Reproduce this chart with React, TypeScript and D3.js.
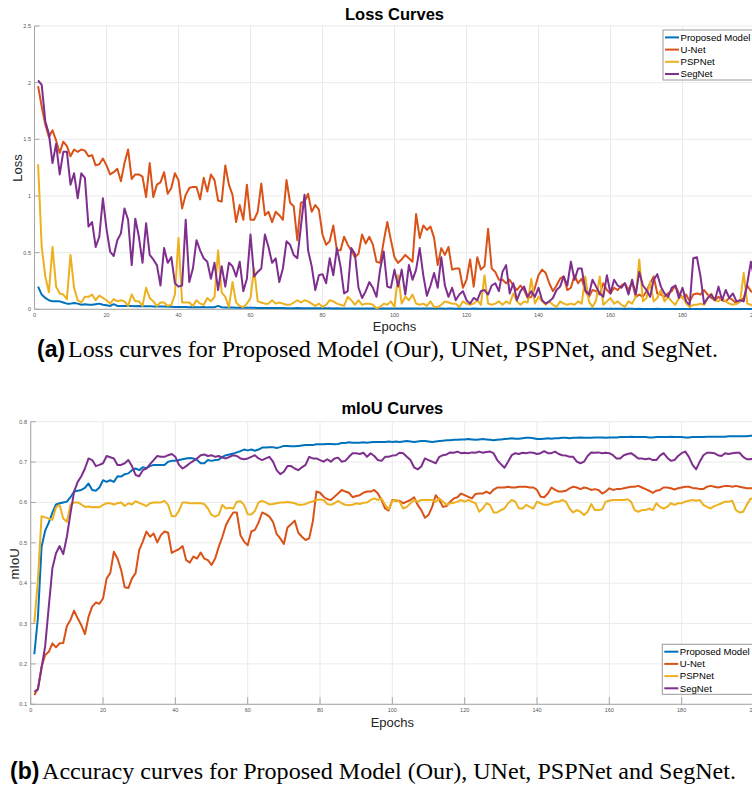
import React, { useEffect, useRef } from 'react';
import * as d3 from 'd3';

// ---- data ----
const seriesNames = ['Proposed Model', 'U-Net', 'PSPNet', 'SegNet'];
const seriesColors = ['#0072BD', '#D95319', '#EDB120', '#7E2F8E'];
const epochTicks = [0, 20, 40, 60, 80, 100, 120, 140, 160, 180, 200];
const lossTicks = [0, 0.5, 1, 1.5, 2, 2.5];
const iouTicks = [0.1, 0.2, 0.3, 0.4, 0.5, 0.6, 0.7, 0.8];

const lossProposed = [
  0.20, 0.13, 0.10, 0.08, 0.07, 0.07, 0.07, 0.06, 0.05, 0.05,
  0.055, 0.05, 0.04, 0.045, 0.04, 0.04, 0.045, 0.05, 0.04, 0.035,
  0.03, 0.045, 0.03, 0.03, 0.03, 0.03, 0.03, 0.028, 0.03, 0.028,
  0.026, 0.028, 0.025, 0.024, 0.025, 0.024, 0.022, 0.022, 0.021, 0.02,
  0.02, 0.02, 0.019, 0.02, 0.018, 0.018, 0.02, 0.017, 0.017, 0.018,
  0.03, 0.018, 0.016, 0.015, 0.015, 0.014, 0.014, 0.013, 0.014, 0.013,
  0.013, 0.012, 0.012, 0.012, 0.011, 0.012, 0.011, 0.011, 0.011, 0.01,
  0.01, 0.01, 0.011, 0.01, 0.01, 0.009, 0.01, 0.009, 0.009, 0.009,
  0.009, 0.009, 0.008, 0.009, 0.008, 0.008, 0.008, 0.008, 0.008, 0.008,
  0.008, 0.007, 0.008, 0.007, 0.007, 0.007, 0.007, 0.007, 0.007, 0.007,
  0.007, 0.007, 0.006, 0.007, 0.006, 0.006, 0.007, 0.006, 0.006, 0.006,
  0.006, 0.006, 0.006, 0.005, 0.006, 0.006, 0.005, 0.006, 0.005, 0.005,
  0.005, 0.006, 0.005, 0.005, 0.005, 0.005, 0.005, 0.005, 0.005, 0.005,
  0.005, 0.005, 0.005, 0.005, 0.004, 0.005, 0.005, 0.004, 0.005, 0.004,
  0.004, 0.004, 0.005, 0.004, 0.004, 0.004, 0.004, 0.004, 0.004, 0.004,
  0.004, 0.004, 0.004, 0.004, 0.004, 0.004, 0.004, 0.004, 0.004, 0.004,
  0.004, 0.004, 0.004, 0.003, 0.004, 0.004, 0.003, 0.004, 0.003, 0.003,
  0.003, 0.003, 0.004, 0.003, 0.003, 0.003, 0.003, 0.003, 0.003, 0.003,
  0.003, 0.003, 0.003, 0.003, 0.003, 0.003, 0.003, 0.003, 0.003, 0.003,
  0.003, 0.003, 0.003, 0.003, 0.003, 0.003, 0.003, 0.003, 0.003, 0.003,
];

const lossUNet = [
  1.97, 1.79, 1.63, 1.52, 1.58, 1.49, 1.38, 1.48, 1.44, 1.35,
  1.41, 1.39, 1.41, 1.40, 1.35, 1.36, 1.27, 1.28, 1.33, 1.27,
  1.19, 1.21, 1.24, 1.13, 1.29, 1.41, 1.15, 1.19, 1.19, 1.17,
  0.99, 1.29, 0.99, 1.10, 1.12, 1.21, 1.02, 1.07, 1.20, 1.14,
  0.89, 1.01, 1.07, 1.08, 1.08, 0.97, 1.16, 1.04, 1.19, 1.14,
  0.96, 0.95, 1.27, 1.10, 1.01, 0.77, 0.92, 0.79, 1.10, 0.79,
  0.79, 0.86, 1.11, 0.83, 0.86, 0.77, 0.86, 0.83, 0.79, 1.14,
  0.94, 0.91, 0.61, 0.94, 0.95, 1.02, 0.86, 0.92, 0.88, 0.66,
  0.57, 0.60, 0.74, 0.52, 0.52, 0.64, 0.57, 0.52, 0.46, 0.49,
  0.66, 0.58, 0.64, 0.57, 0.42, 0.41, 0.60, 0.77, 0.61, 0.46,
  0.41, 0.44, 0.48, 0.45, 0.42, 0.84, 0.63, 0.74, 0.70, 0.73,
  0.63, 0.39, 0.54, 0.48, 0.55, 0.35, 0.36, 0.36, 0.19, 0.26,
  0.44, 0.20, 0.46, 0.35, 0.38, 0.71, 0.36, 0.33, 0.26, 0.26,
  0.23, 0.26, 0.21, 0.17, 0.21, 0.17, 0.10, 0.11, 0.19, 0.30,
  0.35, 0.32, 0.23, 0.16, 0.21, 0.27, 0.29, 0.17, 0.19, 0.30,
  0.23, 0.27, 0.16, 0.11, 0.17, 0.16, 0.13, 0.23, 0.17, 0.14,
  0.19, 0.17, 0.21, 0.23, 0.17, 0.24, 0.11, 0.13, 0.11, 0.16,
  0.23, 0.29, 0.14, 0.13, 0.11, 0.14, 0.16, 0.21, 0.14, 0.10,
  0.13, 0.07, 0.13, 0.14, 0.13, 0.17, 0.13, 0.10, 0.08, 0.11,
  0.08, 0.07, 0.10, 0.08, 0.05, 0.07, 0.10, 0.21, 0.16, 0.14,
];

const lossPSPNet = [
  1.28, 0.55, 0.29, 0.15, 0.55, 0.20, 0.14, 0.13, 0.09, 0.48,
  0.19, 0.08, 0.06, 0.11, 0.11, 0.13, 0.08, 0.12, 0.10, 0.08,
  0.05, 0.09, 0.07, 0.08, 0.07, 0.03, 0.13, 0.07, 0.07, 0.03,
  0.19, 0.10, 0.07, 0.03, 0.06, 0.06, 0.03, 0.04, 0.13, 0.63,
  0.06, 0.06, 0.06, 0.03, 0.08, 0.05, 0.04, 0.10, 0.07, 0.11,
  0.52, 0.15, 0.11, 0.02, 0.24, 0.06, 0.03, 0.02, 0.05, 0.10,
  0.36, 0.07, 0.06, 0.05, 0.05, 0.08, 0.05, 0.06, 0.05, 0.04,
  0.04, 0.06, 0.08, 0.06, 0.08, 0.07, 0.05, 0.03, 0.05, 0.02,
  0.04, 0.08, 0.07, 0.05, 0.04, 0.03, 0.11, 0.08, 0.04, 0.08,
  0.04, 0.05, 0.05, 0.04, 0.01, 0.02, 0.05, 0.04, 0.07, 0.02,
  0.30, 0.05, 0.11, 0.08, 0.13, 0.05, 0.04, 0.05, 0.03, 0.07,
  0.02, 0.02, 0.04, 0.07, 0.06, 0.05, 0.05, 0.02, 0.07, 0.05,
  0.04, 0.05, 0.08, 0.04, 0.30, 0.05, 0.04, 0.05, 0.07, 0.04,
  0.07, 0.05, 0.14, 0.07, 0.04, 0.07, 0.06, 0.27, 0.05, 0.11,
  0.07, 0.04, 0.07, 0.04, 0.02, 0.07, 0.05, 0.04, 0.05, 0.04,
  0.07, 0.05, 0.29, 0.07, 0.02, 0.08, 0.29, 0.04, 0.07, 0.10,
  0.05, 0.07, 0.04, 0.02, 0.07, 0.05, 0.11, 0.44, 0.07, 0.10,
  0.24, 0.07, 0.10, 0.17, 0.07, 0.11, 0.07, 0.04, 0.10, 0.11,
  0.05, 0.02, 0.04, 0.04, 0.05, 0.04, 0.10, 0.14, 0.08, 0.07,
  0.10, 0.07, 0.05, 0.04, 0.05, 0.07, 0.32, 0.05, 0.04, 0.02,
];

const lossSegNet = [
  2.02, 1.98, 1.66, 1.55, 1.29, 1.46, 1.19, 1.39, 1.39, 1.10,
  1.20, 0.98, 1.20, 1.16, 0.73, 0.77, 0.55, 0.64, 0.98, 0.71,
  0.51, 0.47, 0.61, 0.67, 0.89, 0.79, 0.39, 0.80, 0.64, 0.41,
  0.76, 0.48, 0.44, 0.39, 0.21, 0.54, 0.41, 0.46, 0.23, 0.20,
  0.21, 0.79, 0.24, 0.36, 0.61, 0.52, 0.45, 0.42, 0.27, 0.41,
  0.17, 0.38, 0.20, 0.41, 0.38, 0.29, 0.42, 0.16, 0.27, 0.66,
  0.29, 0.33, 0.36, 0.66, 0.55, 0.41, 0.45, 0.24, 0.36, 0.60,
  0.57, 0.48, 0.45, 0.73, 1.01, 0.52, 0.38, 0.17, 0.30, 0.31,
  0.23, 0.45, 0.30, 0.54, 0.38, 0.14, 0.16, 0.54, 0.49, 0.19,
  0.10, 0.16, 0.24, 0.19, 0.11, 0.35, 0.51, 0.20, 0.19, 0.35,
  0.20, 0.35, 0.13, 0.39, 0.26, 0.35, 0.54, 0.30, 0.12, 0.21,
  0.32, 0.19, 0.46, 0.21, 0.11, 0.19, 0.08, 0.13, 0.16, 0.08,
  0.05, 0.10, 0.08, 0.16, 0.17, 0.13, 0.21, 0.23, 0.16, 0.33,
  0.39, 0.14, 0.23, 0.08, 0.16, 0.20, 0.11, 0.16, 0.11, 0.19,
  0.08, 0.05, 0.07, 0.10, 0.17, 0.20, 0.29, 0.21, 0.42, 0.26,
  0.36, 0.36, 0.17, 0.13, 0.26, 0.20, 0.14, 0.11, 0.30, 0.14,
  0.26, 0.21, 0.19, 0.23, 0.13, 0.26, 0.13, 0.33, 0.21, 0.17,
  0.11, 0.26, 0.31, 0.20, 0.14, 0.11, 0.19, 0.21, 0.10, 0.19,
  0.07, 0.04, 0.45, 0.46, 0.29, 0.05, 0.10, 0.13, 0.08, 0.20,
  0.08, 0.17, 0.10, 0.14, 0.07, 0.08, 0.07, 0.23, 0.42, 0.26,
];

const iouProposed = [
  0.224, 0.315, 0.490, 0.530, 0.550, 0.575, 0.595, 0.598, 0.600, 0.602,
  0.613, 0.627, 0.629, 0.631, 0.636, 0.647, 0.631, 0.629, 0.637, 0.655,
  0.651, 0.655, 0.651, 0.665, 0.664, 0.670, 0.672, 0.680, 0.684, 0.680,
  0.687, 0.685, 0.690, 0.693, 0.693, 0.693, 0.693, 0.701, 0.703, 0.703,
  0.705, 0.707, 0.709, 0.710, 0.709, 0.705, 0.697, 0.697, 0.705, 0.703,
  0.705, 0.706, 0.713, 0.717, 0.719, 0.721, 0.724, 0.727, 0.731, 0.729,
  0.731, 0.728, 0.731, 0.736, 0.736, 0.737, 0.737, 0.735, 0.737, 0.740,
  0.740, 0.739, 0.739, 0.740, 0.741, 0.742, 0.742, 0.742, 0.744, 0.744,
  0.744, 0.745, 0.745, 0.744, 0.745, 0.747, 0.747, 0.749, 0.748, 0.748,
  0.748, 0.749, 0.748, 0.749, 0.750, 0.750, 0.750, 0.750, 0.751, 0.750,
  0.751, 0.750, 0.751, 0.752, 0.751, 0.750, 0.751, 0.752, 0.752, 0.751,
  0.750, 0.751, 0.752, 0.753, 0.754, 0.754, 0.755, 0.755, 0.756, 0.756,
  0.757, 0.756, 0.755, 0.756, 0.757, 0.756, 0.755, 0.754, 0.755, 0.756,
  0.757, 0.758, 0.759, 0.758, 0.758, 0.759, 0.760, 0.760, 0.759, 0.757,
  0.757, 0.758, 0.759, 0.758, 0.759, 0.759, 0.760, 0.760, 0.759, 0.760,
  0.760, 0.761, 0.760, 0.760, 0.760, 0.761, 0.761, 0.761, 0.760, 0.761,
  0.761, 0.761, 0.762, 0.762, 0.762, 0.763, 0.762, 0.762, 0.762, 0.762,
  0.761, 0.761, 0.762, 0.762, 0.762, 0.762, 0.763, 0.762, 0.762, 0.762,
  0.761, 0.761, 0.762, 0.762, 0.762, 0.762, 0.763, 0.763, 0.763, 0.763,
  0.763, 0.763, 0.764, 0.764, 0.764, 0.764, 0.764, 0.764, 0.765, 0.765,
];

const iouUNet = [
  0.123, 0.139, 0.193, 0.222, 0.230, 0.251, 0.241, 0.251, 0.252, 0.294,
  0.309, 0.332, 0.313, 0.296, 0.274, 0.317, 0.342, 0.352, 0.349, 0.362,
  0.412, 0.425, 0.478, 0.461, 0.433, 0.390, 0.388, 0.412, 0.425, 0.482,
  0.503, 0.528, 0.515, 0.523, 0.501, 0.519, 0.528, 0.525, 0.475, 0.480,
  0.484, 0.492, 0.457, 0.451, 0.466, 0.461, 0.476, 0.461, 0.457, 0.445,
  0.461, 0.490, 0.515, 0.544, 0.561, 0.575, 0.575, 0.519, 0.503, 0.494,
  0.528, 0.532, 0.550, 0.575, 0.571, 0.565, 0.552, 0.522, 0.511, 0.497,
  0.538, 0.546, 0.555, 0.525, 0.515, 0.507, 0.511, 0.552, 0.627, 0.624,
  0.614, 0.608, 0.606, 0.614, 0.622, 0.631, 0.627, 0.624, 0.613, 0.616,
  0.618, 0.624, 0.627, 0.627, 0.631, 0.622, 0.606, 0.585, 0.580, 0.606,
  0.604, 0.604, 0.598, 0.602, 0.606, 0.613, 0.594, 0.581, 0.562, 0.569,
  0.589, 0.618, 0.606, 0.589, 0.591, 0.602, 0.610, 0.613, 0.622, 0.618,
  0.614, 0.610, 0.621, 0.622, 0.622, 0.627, 0.622, 0.632, 0.637, 0.637,
  0.637, 0.639, 0.637, 0.637, 0.639, 0.639, 0.639, 0.637, 0.637, 0.631,
  0.614, 0.613, 0.622, 0.637, 0.631, 0.627, 0.627, 0.629, 0.635, 0.639,
  0.637, 0.633, 0.637, 0.635, 0.631, 0.633, 0.631, 0.622, 0.627, 0.635,
  0.631, 0.633, 0.633, 0.635, 0.637, 0.639, 0.639, 0.641, 0.637, 0.633,
  0.629, 0.624, 0.629, 0.631, 0.637, 0.637, 0.635, 0.632, 0.635, 0.637,
  0.639, 0.639, 0.636, 0.635, 0.633, 0.633, 0.639, 0.641, 0.639, 0.637,
  0.639, 0.641, 0.641, 0.639, 0.641, 0.639, 0.637, 0.635, 0.635, 0.636,
];

const iouPSPNet = [
  0.302, 0.408, 0.566, 0.563, 0.560, 0.557, 0.588, 0.594, 0.560, 0.552,
  0.594, 0.600, 0.600, 0.595, 0.589, 0.590, 0.588, 0.589, 0.588, 0.594,
  0.598, 0.598, 0.595, 0.598, 0.600, 0.591, 0.598, 0.595, 0.603, 0.599,
  0.595, 0.591, 0.598, 0.600, 0.600, 0.600, 0.604, 0.594, 0.566, 0.566,
  0.579, 0.600, 0.600, 0.598, 0.598, 0.598, 0.598, 0.596, 0.585, 0.569,
  0.565, 0.569, 0.594, 0.585, 0.587, 0.585, 0.602, 0.603, 0.594, 0.571,
  0.570, 0.579, 0.600, 0.604, 0.600, 0.595, 0.596, 0.598, 0.600, 0.600,
  0.601, 0.600, 0.598, 0.594, 0.594, 0.596, 0.600, 0.603, 0.606, 0.607,
  0.606, 0.596, 0.594, 0.598, 0.604, 0.598, 0.594, 0.593, 0.594, 0.598,
  0.596, 0.599, 0.600, 0.606, 0.610, 0.606, 0.610, 0.594, 0.583, 0.604,
  0.606, 0.602, 0.585, 0.589, 0.598, 0.606, 0.602, 0.606, 0.606, 0.606,
  0.606, 0.602, 0.610, 0.602, 0.594, 0.598, 0.599, 0.602, 0.606, 0.602,
  0.606, 0.602, 0.598, 0.577, 0.585, 0.598, 0.594, 0.575, 0.575, 0.581,
  0.585, 0.598, 0.606, 0.602, 0.585, 0.585, 0.594, 0.589, 0.585, 0.602,
  0.598, 0.594, 0.594, 0.598, 0.602, 0.602, 0.606, 0.602, 0.585, 0.575,
  0.581, 0.577, 0.569, 0.577, 0.596, 0.581, 0.581, 0.583, 0.602, 0.604,
  0.606, 0.606, 0.606, 0.606, 0.608, 0.602, 0.581, 0.577, 0.581, 0.581,
  0.585, 0.581, 0.598, 0.589, 0.585, 0.589, 0.598, 0.594, 0.598, 0.598,
  0.602, 0.604, 0.606, 0.604, 0.606, 0.594, 0.589, 0.585, 0.591, 0.594,
  0.598, 0.602, 0.602, 0.604, 0.581, 0.575, 0.577, 0.594, 0.609, 0.610,
];

const iouSegNet = [
  0.131, 0.137, 0.190, 0.244, 0.342, 0.437, 0.474, 0.492, 0.472, 0.515,
  0.573, 0.627, 0.651, 0.665, 0.684, 0.709, 0.705, 0.690, 0.693, 0.697,
  0.715, 0.712, 0.709, 0.693, 0.693, 0.697, 0.705, 0.690, 0.668, 0.665,
  0.680, 0.684, 0.695, 0.705, 0.715, 0.713, 0.713, 0.717, 0.720, 0.713,
  0.693, 0.684, 0.690, 0.697, 0.703, 0.709, 0.717, 0.719, 0.715, 0.717,
  0.713, 0.715, 0.711, 0.709, 0.713, 0.717, 0.715, 0.709, 0.707, 0.709,
  0.713, 0.717, 0.709, 0.705, 0.709, 0.713, 0.701, 0.680, 0.670, 0.676,
  0.690, 0.690, 0.684, 0.680, 0.687, 0.693, 0.713, 0.709, 0.709, 0.705,
  0.701, 0.707, 0.701, 0.709, 0.711, 0.701, 0.703, 0.713, 0.722, 0.722,
  0.720, 0.723, 0.713, 0.722, 0.715, 0.705, 0.703, 0.713, 0.713, 0.716,
  0.717, 0.723, 0.722, 0.713, 0.705, 0.687, 0.682, 0.689, 0.709, 0.705,
  0.701, 0.697, 0.713, 0.717, 0.719, 0.724, 0.723, 0.726, 0.722, 0.723,
  0.722, 0.724, 0.723, 0.726, 0.723, 0.725, 0.726, 0.722, 0.705, 0.695,
  0.686, 0.701, 0.717, 0.722, 0.720, 0.723, 0.722, 0.724, 0.723, 0.720,
  0.722, 0.727, 0.722, 0.722, 0.726, 0.720, 0.717, 0.716, 0.713, 0.713,
  0.701, 0.697, 0.701, 0.715, 0.724, 0.723, 0.724, 0.722, 0.723, 0.722,
  0.717, 0.709, 0.709, 0.717, 0.720, 0.722, 0.716, 0.709, 0.709, 0.707,
  0.709, 0.705, 0.705, 0.716, 0.722, 0.711, 0.703, 0.705, 0.715, 0.722,
  0.726, 0.713, 0.693, 0.682, 0.701, 0.717, 0.723, 0.723, 0.722, 0.717,
  0.715, 0.722, 0.720, 0.722, 0.723, 0.723, 0.713, 0.707, 0.707, 0.709,
];

const SANS = 'Liberation Sans, Arial, Helvetica, sans-serif';
const SERIF = 'Liberation Serif, Times New Roman, serif';

function drawPanel(svg: any, p: any) {
  const x = d3.scaleLinear().domain([0, 200]).range([p.left, p.right]);
  const y = d3.scaleLinear().domain(p.yDomain).range([p.bottom, p.top]);
  const g = svg.append('g');

  // grid
  g.selectAll('.vgrid').data(epochTicks).enter().append('line')
    .attr('x1', d => x(d)).attr('x2', d => x(d))
    .attr('y1', p.top).attr('y2', p.bottom)
    .attr('stroke', '#ebebeb').attr('stroke-width', 1);
  g.selectAll('.hgrid').data(p.yTicks).enter().append('line')
    .attr('x1', p.left).attr('x2', p.right)
    .attr('y1', d => y(d)).attr('y2', d => y(d))
    .attr('stroke', '#ebebeb').attr('stroke-width', 1);

  // axes
  g.append('line').attr('x1', p.left).attr('x2', p.left).attr('y1', p.top).attr('y2', p.bottom)
    .attr('stroke', '#a6a6a6').attr('stroke-width', 1);
  g.append('line').attr('x1', p.left).attr('x2', p.right).attr('y1', p.bottom).attr('y2', p.bottom)
    .attr('stroke', '#a6a6a6').attr('stroke-width', 1);
  g.selectAll('.ytick').data(p.yTicks).enter().append('line')
    .attr('x1', p.left).attr('x2', p.left + 5)
    .attr('y1', d => y(d)).attr('y2', d => y(d))
    .attr('stroke', '#a6a6a6');
  if (p.xTickLen) {
    g.selectAll('.xtick').data(epochTicks).enter().append('line')
      .attr('x1', d => x(d)).attr('x2', d => x(d))
      .attr('y1', p.bottom).attr('y2', p.bottom - p.xTickLen)
      .attr('stroke', '#a6a6a6');
  }

  // tick labels
  g.selectAll('.ylab').data(p.yTicks).enter().append('text')
    .attr('x', p.yLabelX).attr('y', d => y(d) + 2)
    .attr('text-anchor', 'end')
    .style('font', `5.5px ${SANS}`).attr('fill', '#555')
    .text(d => String(d));
  g.selectAll('.xlab').data(epochTicks).enter().append('text')
    .attr('x', d => x(d)).attr('y', p.xLabelY)
    .attr('text-anchor', 'middle')
    .style('font', `5.5px ${SANS}`).attr('fill', '#555')
    .text(d => String(d));

  // series
  const line = d3.line<number>()
    .x((d, i) => x(i + 1))
    .y(d => y(d));
  p.series.forEach((s: number[], i: number) => {
    g.append('path')
      .attr('d', line(s))
      .attr('fill', 'none')
      .attr('stroke', seriesColors[i])
      .attr('stroke-width', 2)
      .attr('stroke-linejoin', 'round');
  });

  // title + axis labels
  g.append('text').attr('x', (p.left + p.right) / 2).attr('y', p.titleY)
    .attr('text-anchor', 'middle')
    .style('font', `bold 16.5px ${SANS}`).attr('fill', '#000')
    .text(p.title);
  g.append('text').attr('x', (p.left + p.right) / 2).attr('y', p.xTitleY)
    .attr('text-anchor', 'middle')
    .style('font', `13px ${SANS}`).attr('fill', '#262626')
    .text('Epochs');
  g.append('text')
    .attr('transform', `translate(${p.yTitleX},${p.yTitleY}) rotate(-90)`)
    .attr('text-anchor', 'middle')
    .style('font', `13px ${SANS}`).attr('fill', '#262626')
    .text(p.yTitle);

  // legend
  const lg = g.append('g').attr('transform', `translate(${p.legendX},${p.legendY})`);
  lg.append('rect').attr('x', 0).attr('y', 0).attr('width', 110).attr('height', 50)
    .attr('fill', '#fff').attr('stroke', '#999').attr('stroke-width', 1);
  seriesNames.forEach((name, i) => {
    const cy = 7.4 + i * 12.2;
    lg.append('line').attr('x1', 2).attr('x2', 16).attr('y1', cy).attr('y2', cy)
      .attr('stroke', seriesColors[i]).attr('stroke-width', 2);
    lg.append('text').attr('x', 17.5).attr('y', cy + 3.4)
      .style('font', `9.6px ${SANS}`).attr('fill', '#000')
      .text(name);
  });
}

function App() {
  const svgRef = useRef<SVGSVGElement>(null);

  useEffect(() => {
    const svg = d3.select(svgRef.current);
    svg.selectAll('*').remove();
    svg.append('rect').attr('width', 752).attr('height', 787).attr('fill', '#fff');

    drawPanel(svg, {
      left: 34.5, right: 754.5, top: 26, bottom: 309.3,
      yDomain: [0, 2.5], yTicks: lossTicks,
      series: [lossProposed, lossUNet, lossPSPNet, lossSegNet],
      title: 'Loss Curves', titleY: 19.5,
      xTitleY: 331, yTitle: 'Loss', yTitleX: 22, yTitleY: 168,
      yLabelX: 31, xLabelY: 317, xTickLen: 0,
      legendX: 663, legendY: 30,
    });

    drawPanel(svg, {
      left: 30.7, right: 754, top: 421.7, bottom: 704.3,
      yDomain: [0.1, 0.8], yTicks: iouTicks,
      series: [iouProposed, iouUNet, iouPSPNet, iouSegNet],
      title: 'mIoU Curves', titleY: 414,
      xTitleY: 727, yTitle: 'mIoU', yTitleX: 19, yTitleY: 564,
      yLabelX: 27, xLabelY: 712, xTickLen: 7,
      legendX: 662.3, legendY: 644.3,
    });

    // captions
    const cap = (label: string, body: string, x0: number, bodyX: number, bodyEnd: number, yb: number) => {
      svg.append('text').attr('x', x0).attr('y', yb)
        .style('font', `bold 23px ${SANS}`).attr('fill', '#000').text(label);
      svg.append('text').attr('x', bodyX).attr('y', yb)
        .attr('textLength', bodyEnd - bodyX).attr('lengthAdjust', 'spacingAndGlyphs')
        .style('font', `24px ${SERIF}`).attr('fill', '#000').text(body);
    };
    cap('(a)', 'Loss curves for Proposed Model (Our), UNet, PSPNet, and SegNet.', 37, 68, 718, 357);
    cap('(b)', 'Accuracy curves for Proposed Model (Our), UNet, PSPNet and SegNet.', 10, 42, 736, 779);
  }, []);

  return (
    <svg ref={svgRef} width={752} height={787}
      style={{ position: 'absolute', left: 0, top: 0, display: 'block' }} />
  );
}

export default App;
